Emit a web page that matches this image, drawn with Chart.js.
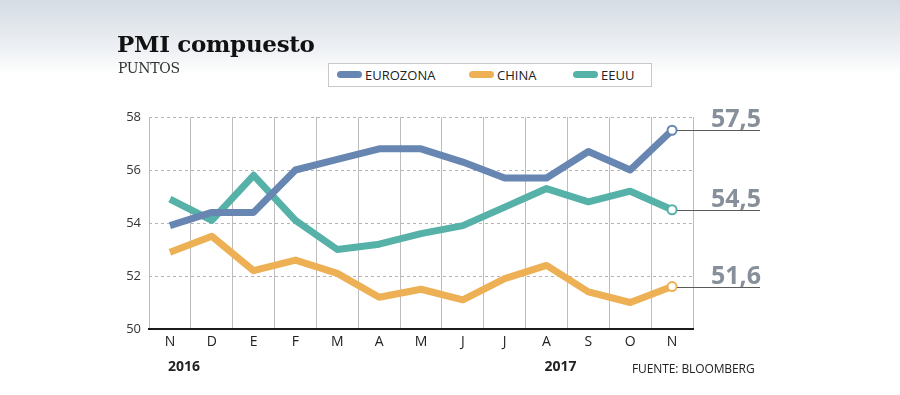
<!DOCTYPE html>
<html>
<head>
<meta charset="utf-8">
<script src="https://cdn.jsdelivr.net/npm/chart.js@4"></script>
<style>
  body { margin: 0; width: 900px; height: 395px; overflow: hidden;
         background: linear-gradient(#d5dce4 0px, #eef1f4 50px, #ffffff 74px, #ffffff 395px); }
  #wrap { position: relative; width: 900px; height: 395px; }
  #title { position: absolute; left: 117px; top: 30px; font: bold 23px "DejaVu Serif", serif; color: #111; letter-spacing: -0.3px; }
  #sub { position: absolute; left: 118px; top: 60px; font: 14px "DejaVu Serif", serif; color: #333; letter-spacing: -0.3px; }
  #legend { position: absolute; left: 328px; top: 63px; width: 322px; height: 22px; border: 1px solid #c8c8c8; background: #fff;
            font: 13px "Open Sans", sans-serif; color: #222; }
  .item { position: absolute; top: 2px; line-height: 18px; }
  .sw { display: inline-block; width: 25px; height: 7px; border-radius: 4px; vertical-align: 2px; margin-right: 3px; }
  #src { position: absolute; left: 632px; top: 360px; font: 12px "Open Sans", sans-serif; color: #222; letter-spacing: -0.1px; }
  canvas { position: absolute; left: 0; top: 0; }
</style>
</head>
<body>
<div id="wrap">
  <canvas id="canvas" width="900" height="395"></canvas>
  <div id="title">PMI compuesto</div>
  <div id="sub">PUNTOS</div>
  <div id="legend"></div>
  <div id="src">FUENTE: BLOOMBERG</div>
</div>
<script>
const months = ["N", "D", "E", "F", "M", "A", "M", "J", "J", "A", "S", "O", "N"];
const years = [{ index: 0, label: "2016" }, { index: 9, label: "2017" }];
const eurozona = [53.9, 54.4, 54.4, 56.0, 56.4, 56.8, 56.8, 56.3, 55.7, 55.7, 56.7, 56.0, 57.5];
const china = [52.9, 53.5, 52.2, 52.6, 52.1, 51.2, 51.5, 51.1, 51.9, 52.4, 51.4, 51.0, 51.6];
const eeuu = [54.9, 54.1, 55.8, 54.1, 53.0, 53.2, 53.6, 53.9, 54.6, 55.3, 54.8, 55.2, 54.5];
const names = ["EUROZONA", "CHINA", "EEUU"];
const colors = ["#6786b1", "#eeb054", "#56b1a8"];

const legendPos = [8, 140, 244];
const legend = document.getElementById("legend");
names.forEach((n, i) => {
  const el = document.createElement("div");
  el.className = "item";
  el.style.left = legendPos[i] + "px";
  el.innerHTML = '<span class="sw" style="background:' + colors[i] + '"></span>' + n;
  legend.appendChild(el);
});

const lastOnly = (arr, v) => arr.map((_, i) => (i === arr.length - 1 ? v : 0));

const make_dataset = (label, data, color) => ({
  label: label,
  data: data,
  borderColor: color,
  borderWidth: 7,
  borderJoinStyle: "round",
  tension: 0,
  pointRadius: lastOnly(data, 4.5),
  pointBorderWidth: 2,
  pointBackgroundColor: "#fff",
  pointBorderColor: color,
  pointHoverRadius: 0,
});

const endLabels = {
  id: "endLabels",
  afterDatasetsDraw(chart) {
    const ctx = chart.ctx;
    const x = chart.scales.x;
    const y = chart.scales.y;
    ctx.save();
    chart.data.datasets.forEach((ds) => {
      const last = ds.data.length - 1;
      const px = x.getPixelForValue(last);
      const py = Math.round(y.getPixelForValue(ds.data[last])) + 0.5;
      ctx.strokeStyle = "#5a5a5a";
      ctx.lineWidth = 1;
      ctx.beginPath();
      ctx.moveTo(px + 5, py);
      ctx.lineTo(760, py);
      ctx.stroke();
      ctx.fillStyle = "#87909a";
      ctx.font = "bold 25px 'Open Sans', sans-serif";
      ctx.textAlign = "right";
      ctx.textBaseline = "alphabetic";
      ctx.fillText(ds.data[last].toFixed(1).replace(".", ","), 761, py - 4);
    });
    ctx.fillStyle = "#222";
    ctx.font = "bold 14px 'Open Sans', sans-serif";
    ctx.textAlign = "left";
    years.forEach((yr) => {
      ctx.fillText(yr.label, x.getPixelForValue(yr.index) - 2, 371);
    });
    ctx.restore();
  }
};

new Chart(document.getElementById("canvas").getContext("2d"), {
  type: "line",
  data: {
    labels: months,
    datasets: [
      make_dataset(names[0], eurozona, colors[0]),
      make_dataset(names[1], china, colors[1]),
      make_dataset(names[2], eeuu, colors[2]),
    ]
  },
  options: {
    responsive: false,
    animation: false,
    events: [],
    layout: { padding: { left: 0, top: 117, right: 207, bottom: 0 } },
    plugins: { legend: { display: false }, tooltip: { enabled: false } },
    scales: {
      x: {
        offset: true,
        grid: { offset: true, color: "#bdbdbd", lineWidth: 1, drawTicks: false },
        border: { display: true, color: "#1a1a1a", width: 2 },
        ticks: { color: "#222", padding: 5, font: { family: "Open Sans", size: 14 } },
        afterFit: (s) => { s.height = 395 - 329; }
      },
      y: {
        min: 50,
        max: 58,
        ticks: { stepSize: 2, color: "#333", padding: 8, font: { family: "Open Sans", size: 13 } },
        grid: { color: "#b5b5b5", lineWidth: 1, drawTicks: false },
        border: { display: false, dash: [3, 3] },
        afterFit: (s) => { s.width = 149; }
      }
    }
  },
  plugins: [endLabels]
});
</script>
</body>
</html>
